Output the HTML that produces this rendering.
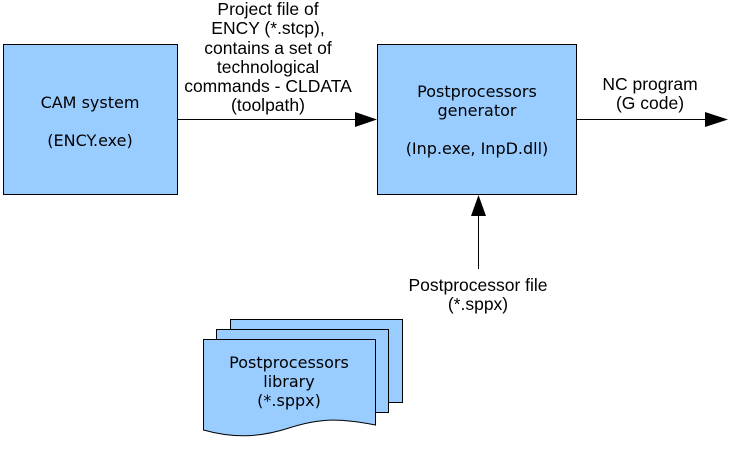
<!DOCTYPE html>
<html><head><style>body{margin:0;background:#fff}</style></head><body>
<svg width="732" height="448" xmlns="http://www.w3.org/2000/svg" font-family="Liberation Sans, sans-serif" font-size="17.5" fill="#000">
<rect x="3.5" y="44.5" width="174" height="150" fill="#99ccff" stroke="#000"/>
<rect x="377.5" y="44.5" width="199" height="150" fill="#99ccff" stroke="#000"/>
<line x1="178" y1="119.5" x2="358" y2="119.5" stroke="#000"/>
<polygon points="355,112 377,119.5 355,127" fill="#000"/>
<line x1="577" y1="119.5" x2="708" y2="119.5" stroke="#000"/>
<polygon points="705,112 728,119.5 705,127" fill="#000"/>
<line x1="478.5" y1="269" x2="478.5" y2="214" stroke="#000"/>
<polygon points="471,216 478.5,195 486,216" fill="#000"/>
<rect x="230.5" y="319.5" width="172" height="83" fill="#99ccff" stroke="#000"/>
<rect x="216.5" y="329.5" width="172" height="83" fill="#99ccff" stroke="#000"/>
<path d="M203.5,339.5 H375.5 V425 C340,418 320,418 289,428 C258,438 232,438 203.5,430 Z" fill="#99ccff" stroke="#000"/>
<g text-anchor="middle">
<g font-family="DejaVu Sans, sans-serif" font-size="16">
<text x="90" y="108">CAM system</text>
<text x="90" y="146">(ENCY.exe)</text>
<text x="477" y="97">Postprocessors</text>
<text x="477" y="116">generator</text>
<text x="477" y="154">(Inp.exe, InpD.dll)</text>
<text x="289" y="368">Postprocessors</text>
<text x="289" y="387">library</text>
<text x="289" y="406">(*.sppx)</text>
</g>
<text x="268" y="15">Project file of</text>
<text x="268" y="34">ENCY (*.stcp),</text>
<text x="268" y="54">contains a set of</text>
<text x="268" y="73">technological</text>
<text x="268" y="92">commands - CLDATA</text>
<text x="268" y="111">(toolpath)</text>
<text x="650" y="90">NC program</text>
<text x="650" y="109">(G code)</text>
<text x="478" y="291">Postprocessor file</text>
<text x="478" y="310">(*.sppx)</text>
</g>
</svg>
</body></html>
